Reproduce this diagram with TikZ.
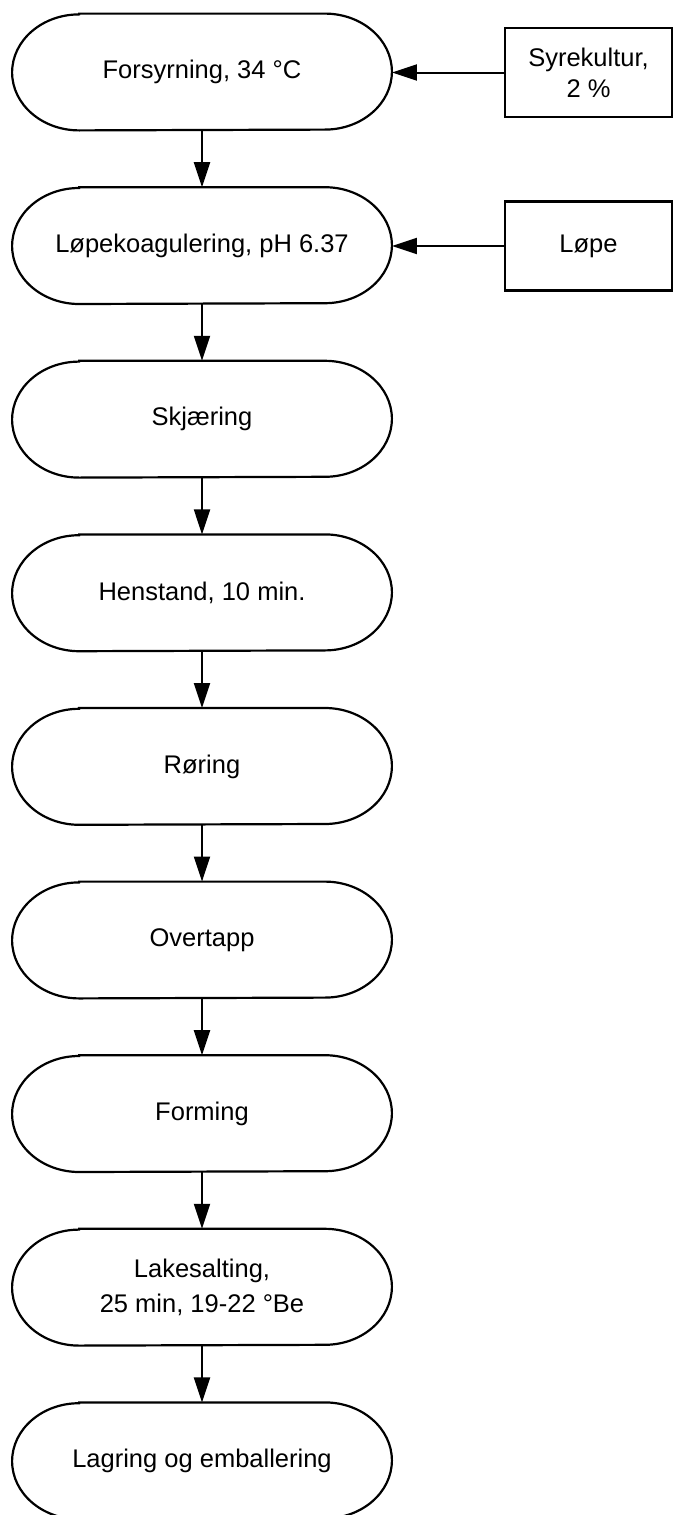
\documentclass[tikz,border=0pt]{standalone}
\usepackage{fontspec}
\setmainfont{Liberation Sans}
\usetikzlibrary{arrows.meta}
\tikzset{
  stepnode/.style={minimum width=189.5pt, minimum height=58pt, inner sep=0pt, align=center,
    font=\fontsize{12.75}{17.5}\selectfont},
  inbox/.style={draw, line width=1.1pt, minimum width=83.5pt, minimum height=44.5pt, inner sep=0pt, align=center,
    font=\fontsize{12.75}{15.5}\selectfont},
  outline/.style={draw, line width=1.1pt},
  flow/.style={line width=1pt, -{Triangle[length=12.5pt,width=8pt]}}
}
\begin{document}
\begin{tikzpicture}
\useasboundingbox (0,0) rectangle (336.5pt,-757.5pt);
\node[stepnode] (s1) at (101pt,-36pt) {Forsyrning, 34 °C};
\node[stepnode] (s2) at (101pt,-122.8pt) {Løpekoagulering, pH 6.37};
\node[stepnode] (s3) at (101pt,-209.6pt) {Skjæring};
\node[stepnode] (s4) at (101pt,-296.4pt) {Henstand, 10 min.};
\node[stepnode] (s5) at (101pt,-383.2pt) {Røring};
\node[stepnode] (s6) at (101pt,-470pt) {Overtapp};
\node[stepnode] (s7) at (101pt,-556.8pt) {Forming};
\node[stepnode] (s8) at (101pt,-643.6pt) {Lakesalting,\\25 min, 19-22 °Be};
\node[stepnode] (s9) at (101pt,-730.4pt) {Lagring og emballering};
\foreach \n in {s1,s2,s3,s4,s5,s6,s7,s8,s9}{
  \draw[outline] ([xshift=33.5pt]\n.north west) -- ([xshift=-33.5pt]\n.north east)
    arc[start angle=90,end angle=-90,x radius=33.5pt,y radius=29pt]
    -- ([xshift=33.5pt]\n.south west)
    arc[start angle=270,end angle=90,x radius=33.5pt,y radius=29pt] -- cycle;
}
\node[inbox] (b1) at (294.25pt,-36.25pt) {Syrekultur,\\2 \%};
\node[inbox] (b2) at (294.25pt,-123pt) {Løpe};
\draw[flow] (b1.west) -- (b1.west -| s1.east);
\draw[flow] (b2.west) -- (b2.west -| s2.east);
\foreach \a/\b in {s1/s2,s2/s3,s3/s4,s4/s5,s5/s6,s6/s7,s7/s8,s8/s9}{
  \draw[flow] (\a.south) -- (\b.north);
}
\end{tikzpicture}
\end{document}
